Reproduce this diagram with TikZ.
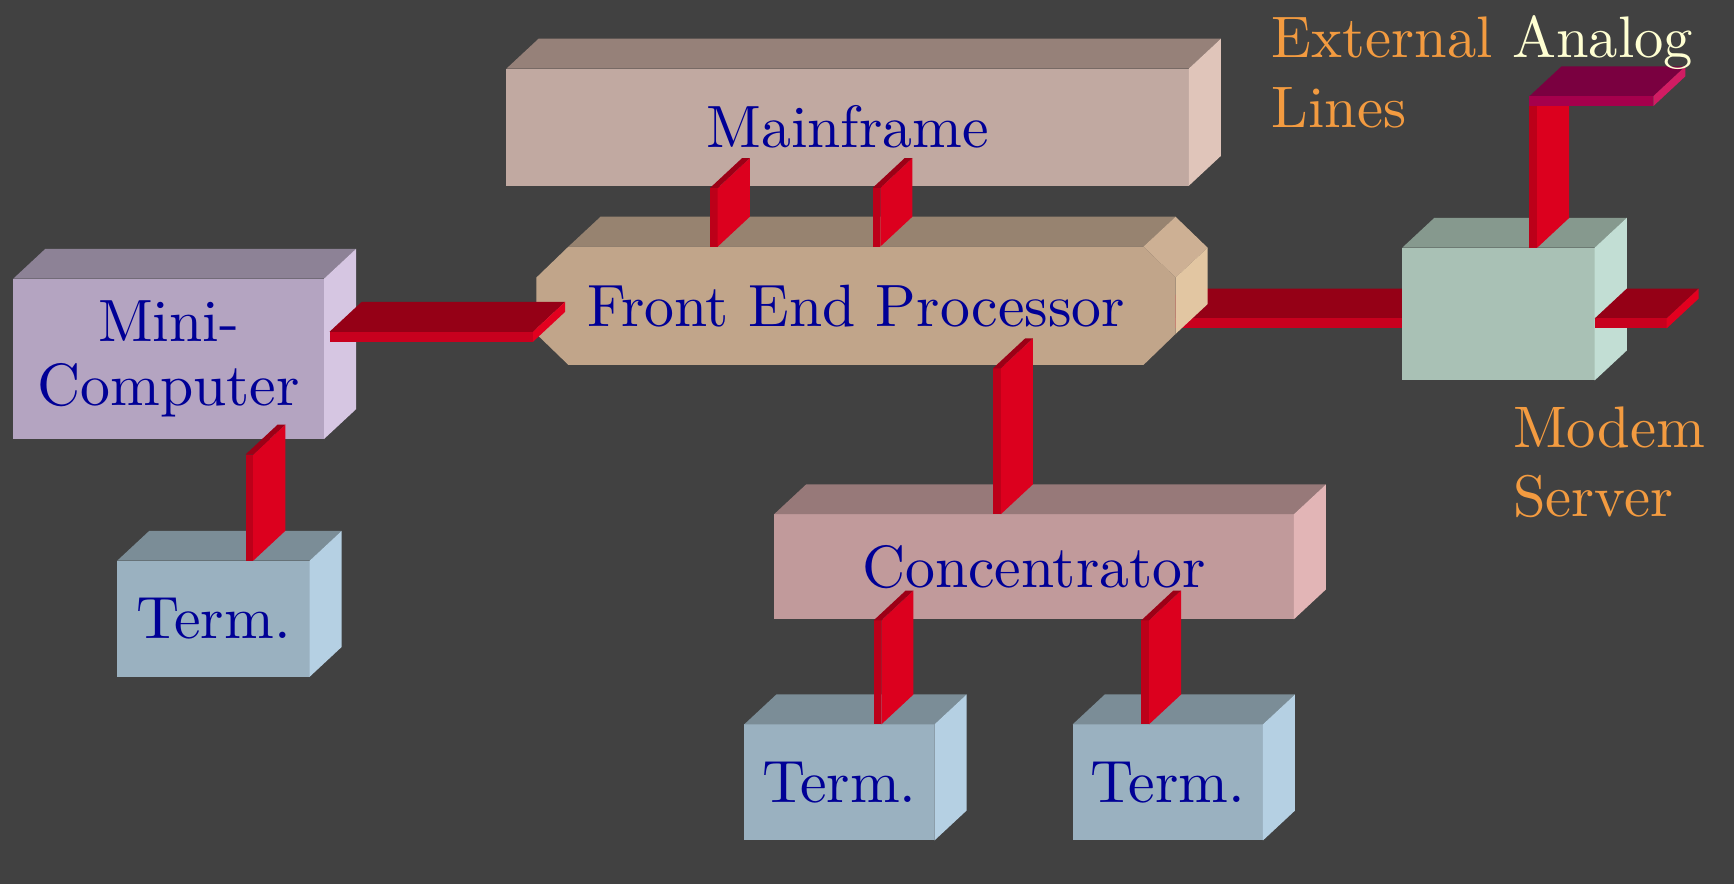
\documentclass[tikz,border=0pt]{standalone}
\usepackage{fontspec}
\setmainfont{lmroman10-regular.otf}
\usetikzlibrary{calc}
\definecolor{bgc}{HTML}{414141}
\definecolor{lbl}{HTML}{000096}
\definecolor{orng}{HTML}{F39B40}
\definecolor{cream}{HTML}{FFFFD2}
\definecolor{mfF}{HTML}{C1A9A1}\definecolor{mfT}{HTML}{968179}\definecolor{mfS}{HTML}{E0C5BA}
\definecolor{fpF}{HTML}{C1A58A}\definecolor{fpT}{HTML}{978370}\definecolor{fpC}{HTML}{CDB094}\definecolor{fpS}{HTML}{E2C6A2}
\definecolor{miF}{HTML}{B4A4C1}\definecolor{miT}{HTML}{8D8296}\definecolor{miS}{HTML}{D6C6E2}
\definecolor{teF}{HTML}{9AB1C0}\definecolor{teT}{HTML}{7B8D97}\definecolor{teS}{HTML}{B5D0E3}
\definecolor{coF}{HTML}{C19A9B}\definecolor{coT}{HTML}{977979}\definecolor{coS}{HTML}{E2B5B6}
\definecolor{moF}{HTML}{A9C1B5}\definecolor{moT}{HTML}{86998E}\definecolor{moS}{HTML}{C2DED4}
\definecolor{vpF}{HTML}{BC0019}\definecolor{vpS}{HTML}{DC001E}\definecolor{vpT}{HTML}{9C0016}
\definecolor{hpT}{HTML}{950016}\definecolor{hpF}{HTML}{C8001E}\definecolor{hpE}{HTML}{E3001F}
\definecolor{mgT}{HTML}{7A0040}\definecolor{mgF}{HTML}{A5004C}\definecolor{mgE}{HTML}{D11C63}
\pgfdeclarelayer{under}
\pgfsetlayers{under,main}
\def\dx{29}\def\dy{-27}
\newcommand\cube[9]{%
  \node[box, fill=#6, minimum width={(#4-#2)*1pt}, minimum height={(#5-#3)*1pt}] (#1) at ({(#2+#4)/2},{(#3+#5)/2}) {#9};
  \fill[#7] (#1.north west) -- ++(\dx,\dy) -- ($(#1.north east)+(\dx,\dy)$) -- (#1.north east) -- cycle;
  \fill[#8] (#1.north east) -- ++(\dx,\dy) -- ($(#1.south east)+(\dx,\dy)$) -- (#1.south east) -- cycle;
}
\newcommand\vplate[2]{%
  \coordinate (vpt) at #1;
  \coordinate (vpb) at (vpt |- #2);
  \fill[vpF] (vpt) rectangle ($(vpb)+(7,0)$);
  \fill[vpS] ($(vpt)+(7,0)$) -- ($(vpb)+(7,0)$) -- ++(\dx,\dy) -- ($(vpt)+(7+\dx,\dy)$) -- cycle;
  \fill[vpT] (vpt) -- ($(vpt)+(7,0)$) -- ++(\dx,\dy) -- ($(vpt)+(\dx,\dy)$) -- cycle;
}
\newcommand\hplate[5]{%
  \coordinate (hpa) at #1;
  \coordinate (hpb) at #2;
  \fill[#3] (hpa) -- (hpb) -- ++(\dx,\dy) -- ($(hpa)+(\dx,\dy)$) -- cycle;
  \fill[#4] (hpa) -- (hpb) -- ++(0,9) -- ($(hpa)+(0,9)$) -- cycle;
  \fill[#5] (hpb) -- ++(\dx,\dy) -- ++(0,9) -- ($(hpb)+(0,9)$) -- cycle;
}
\begin{document}
\begin{tikzpicture}[x=1pt,y=-1pt,
  box/.style={inner sep=0pt, outer sep=0pt, text=lbl, font=\fontsize{54}{58}\selectfont, align=center},
  side/.style={font=\fontsize{53}{60}\selectfont, text=orng, inner sep=0pt, anchor=base west}]
\begin{pgfonlayer}{under}
\fill[bgc] (0,0) rectangle (1568,799.4);
\end{pgfonlayer}
\useasboundingbox (0,0) rectangle (1568,799.4);
% boxes
\cube{mf}{458}{62}{1075}{168}{mfF}{mfT}{mfS}{Mainframe}
\cube{mini}{12}{252}{293}{397}{miF}{miT}{miS}{Mini-\\Computer}
\cube{terma}{106}{507}{280}{612}{teF}{teT}{teS}{Term.}
\cube{conc}{700}{465}{1170}{560}{coF}{coT}{coS}{Concentrator}
\cube{termb}{673}{655}{845}{760}{teF}{teT}{teS}{Term.}
\cube{termc}{970}{655}{1142}{760}{teF}{teT}{teS}{Term.}
\cube{modem}{1268}{224}{1442}{344}{moF}{moT}{moS}{}
% front end processor (chamfered prism)
\coordinate (fepc) at (774,276.5);
\fill[fpT] ($(fepc)+(-260,-53.5)$) -- ($(fepc)+(260,-53.5)$) -- ++(\dx,\dy) -- ($(fepc)+(-260+\dx,-53.5+\dy)$) -- cycle;
\fill[fpC] ($(fepc)+(260,-53.5)$) -- ($(fepc)+(289,-25.5)$) -- ++(\dx,\dy) -- ($(fepc)+(260+\dx,-53.5+\dy)$) -- cycle;
\fill[fpS] ($(fepc)+(289,-25.5)$) -- ($(fepc)+(289,25.5)$) -- ++(\dx,\dy) -- ($(fepc)+(289+\dx,-25.5+\dy)$) -- cycle;
\fill[fpF] ($(fepc)+(-260,-53.5)$) -- ($(fepc)+(260,-53.5)$) -- ($(fepc)+(289,-25.5)$) -- ($(fepc)+(289,25.5)$)
  -- ($(fepc)+(260,53.5)$) -- ($(fepc)+(-260,53.5)$) -- ($(fepc)+(-289,25.5)$) -- ($(fepc)+(-289,-25.5)$) -- cycle;
\node[box, minimum width=578pt, minimum height=107pt] (fep) at (fepc) {Front End Processor};
% connector hidden behind FEP and modem
\begin{pgfonlayer}{under}
\hplate{($(fep.east)+(-23,11.5)$)}{(modem.west |- hpa)}{hpT}{hpF}{hpE}
\end{pgfonlayer}
% connectors
\vplate{($(mf.south west)+(184,2)$)}{fep.north}
\vplate{($(mf.south west)+(331,2)$)}{fep.north}
\vplate{($(fep.south west)+(413,3)$)}{conc.north}
\vplate{($(mini.south west)+(210,14)$)}{terma.north}
\vplate{($(conc.south west)+(90,1)$)}{termb.north}
\vplate{($(conc.south west)+(332,1)$)}{termc.north}
\hplate{($(mini.east)+(5,-24.5)$)}{($(fep.west |- hpa)+(-3,0)$)}{hpT}{hpF}{hpE}
\coordinate (lineR) at (1507,288);
\hplate{($(modem.east)+(0,4)$)}{(lineR)}{hpT}{hpF}{hpE}
\coordinate (ext) at (1495,87);
\vplate{($(modem.north west)+(115,-129)$)}{modem.north}
\hplate{($(vpt)+(0,-8)$)}{(ext)}{mgT}{mgF}{mgE}
% labels
\node[side] (extl) at (1150,52) {External \textcolor{cream}{Analog}};
\node[side] (lines) at (1150,115) {Lines};
\node[side] (modl) at (1368,405) {Modem};
\node[side] (serv) at (1368,467) {Server};
\end{tikzpicture}
\end{document}
